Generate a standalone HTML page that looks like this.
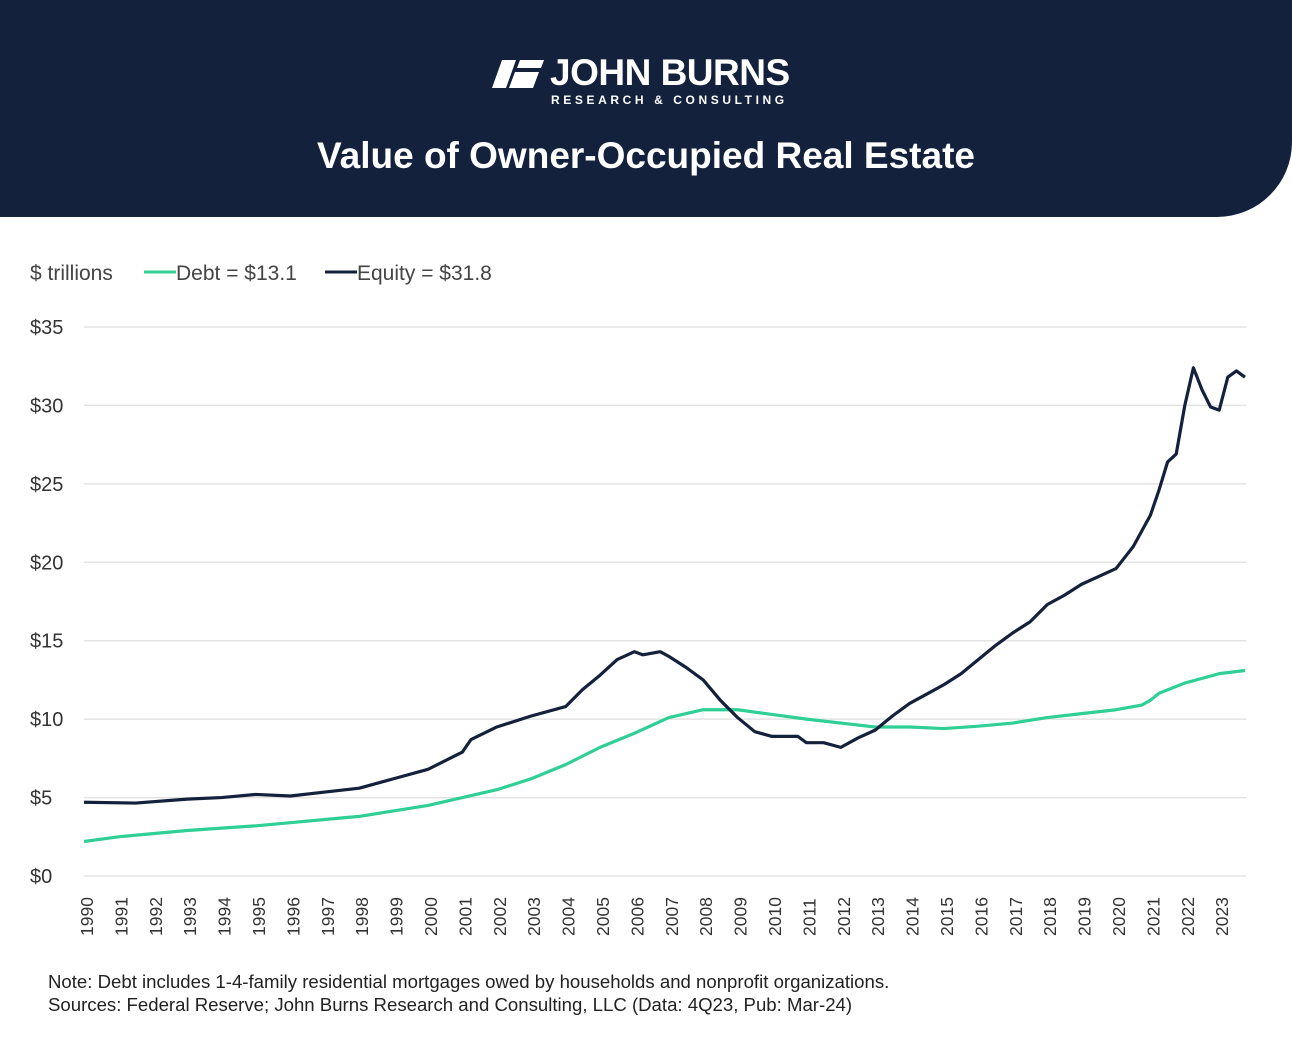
<!DOCTYPE html>
<html><head><meta charset="utf-8"><style>
body{margin:0;width:1292px;height:1053px;background:#fff;font-family:"Liberation Sans",sans-serif;overflow:hidden;position:relative}
#hdr{position:absolute;left:0;top:0;width:1292px;height:217px;background:#14213d;border-bottom-right-radius:75px}
.t{position:absolute;color:#fff;text-align:center;width:1292px;left:0}
.note{position:absolute;left:48px;font-size:18.6px;color:#222}
</style></head><body>
<div id="hdr">
<svg style="position:absolute;left:492px;top:60px" width="52" height="30"><polygon points="10,0 24,0 14,28 0,28" fill="#fff"/><polygon points="28,0 52,0 49,8 25,8" fill="#fff"/><polygon points="23,12 47,12 41,28 17,28" fill="#fff"/></svg>
<div style="position:absolute;left:550px;top:52px;color:#fff;font-size:37px;font-weight:bold;letter-spacing:-0.5px">JOHN BURNS</div>
<div style="position:absolute;left:551px;top:93px;color:#fff;font-size:12px;font-weight:bold;letter-spacing:3.6px">RESEARCH &amp; CONSULTING</div>
<div class="t" style="top:135px;font-size:37px;font-weight:bold">Value of Owner-Occupied Real Estate</div>
</div>
<svg id="chart" width="1292" height="1053" style="position:absolute;left:0;top:0"></svg>
<div class="note" style="top:971px">Note: Debt includes 1-4-family residential mortgages owed by households and nonprofit organizations.</div>
<div class="note" style="top:994px">Sources: Federal Reserve; John Burns Research and Consulting, LLC (Data: 4Q23, Pub: Mar-24)</div>
<script>
const yTicks=[0,5,10,15,20,25,30,35];
const years=[1990,1991,1992,1993,1994,1995,1996,1997,1998,1999,2000,2001,2002,2003,2004,2005,2006,2007,2008,2009,2010,2011,2012,2013,2014,2015,2016,2017,2018,2019,2020,2021,2022,2023];
const equityT=[1990,1991.5,1993,1994,1995,1996,1997,1998,1999,2000,2001,2001.25,2002,2003,2004,2004.5,2005,2005.5,2006,2006.25,2006.75,2007,2007.5,2008,2008.5,2009,2009.5,2010,2010.75,2011,2011.5,2012,2012.5,2013,2013.5,2014,2014.5,2015,2015.5,2016,2016.5,2017,2017.5,2018,2018.5,2019,2019.5,2020,2020.5,2021,2021.25,2021.5,2021.75,2022,2022.25,2022.5,2022.75,2023,2023.25,2023.5,2023.75];
const equityV=[4.7,4.65,4.9,5.0,5.2,5.1,5.35,5.6,6.2,6.8,7.9,8.7,9.5,10.2,10.8,11.9,12.8,13.8,14.3,14.1,14.3,14.0,13.3,12.5,11.2,10.1,9.2,8.9,8.9,8.5,8.5,8.2,8.8,9.3,10.2,11.0,11.6,12.2,12.9,13.8,14.7,15.5,16.2,17.3,17.9,18.6,19.1,19.6,21.0,23.0,24.6,26.4,26.9,30.0,32.4,31.0,29.9,29.7,31.8,32.2,31.8];
const debtT=[1990,1991,1992,1993,1994,1995,1996,1997,1998,1999,2000,2001,2002,2003,2004,2005,2006,2007,2008,2009,2010,2011,2012,2013,2014,2015,2016,2017,2018,2019,2020,2020.75,2021,2021.25,2022,2022.5,2023,2023.75];
const debtV=[2.2,2.5,2.7,2.9,3.05,3.2,3.4,3.6,3.8,4.15,4.5,5.0,5.5,6.2,7.1,8.2,9.1,10.1,10.6,10.6,10.3,10.0,9.75,9.5,9.5,9.4,9.55,9.75,10.1,10.35,10.6,10.9,11.2,11.65,12.3,12.6,12.9,13.1];
const NS='http://www.w3.org/2000/svg',svg=document.getElementById('chart');
const X=t=>84+(t-1990)*34.4, Y=v=>876-v*15.686;
function mk(tag,at,txt){const e=document.createElementNS(NS,tag);for(const k in at)e.setAttribute(k,at[k]);if(txt!=null)e.textContent=txt;svg.appendChild(e);return e;}
yTicks.forEach(v=>{
 const g=mk('line',{x1:84,x2:1246,y1:Y(v),y2:Y(v),stroke:'#e3e3e3','stroke-width':1.5});
 
 
 const l=mk('text',{x:30,y:Y(v)+7,'font-size':20,fill:'#333','font-family':'Liberation Sans'},'$'+v);
 
 
});
years.forEach(yr=>{
 const x=X(yr)+2;
 const l=mk('text',{x:x+7,y:936,transform:`rotate(-90 ${x+7} 936)`,'font-size':17.5,fill:'#333','font-family':'Liberation Sans'},String(yr));
 
 
});
function line(T,V,c,name){
 const p=mk('polyline',{points:T.map((t,i)=>X(t)+','+Y(V[i])).join(' '),fill:'none',stroke:c,'stroke-width':3.2,'stroke-linejoin':'round'});
 
 
}
line(debtT,debtV,'#2fcf96','debt-line');
line(equityT,equityV,'#14213d','equity-line');
const lg=[['$ trillions',30,null],['Debt = $13.1',176,'#2fcf96'],['Equity = $31.8',357,'#14213d']];
lg.forEach(([t,x,c])=>{
 if(c){const s=mk('line',{x1:x-32,x2:x,y1:272,y2:272,stroke:c,'stroke-width':3});
  
  }
 const e=mk('text',{x:x,y:280,'font-size':21,fill:'#444','font-family':'Liberation Sans'},t);
 
 
});
</script>
</body></html>
